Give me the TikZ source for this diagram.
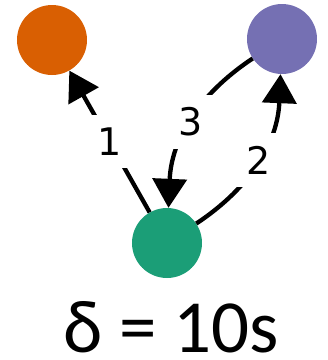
\documentclass[tikz,border=0pt]{standalone}
\usepackage{fontspec}
\newfontfamily\dejavu{DejaVu Sans}
\newfontfamily\carlito{Carlito}
\usetikzlibrary{arrows.meta}
\definecolor{dorange}{HTML}{D95F02}
\definecolor{dpurple}{HTML}{7570B3}
\definecolor{dgreen}{HTML}{1B9E77}
\tikzset{
  vertex/.style={circle,minimum size=70pt,inner sep=0pt,draw=none},
  conn/.style={line width=4.3pt,-{Triangle[length=29pt,width=34pt]}},
  lbl/.style={fill=white,inner sep=13pt,font=\dejavu\fontsize{38}{38}\selectfont}
}
\begin{document}
\begin{tikzpicture}[x=1pt,y=-1pt]
\useasboundingbox (0,0) rectangle (328,360);
\node[vertex,fill=dorange] (o) at (52,40) {};
\node[vertex,fill=dpurple] (p) at (282,39) {};
\node[vertex,fill=dgreen] (g) at (167,243) {};
\draw[conn] (g) -- node[lbl] {1} (o);
\draw[conn] (g) to[bend right=27] node[lbl] {2} (p);
\draw[conn] (p) to[bend right=27] node[lbl] {3} (g);
\node[anchor=base,inner sep=0pt,font=\carlito\fontsize{75}{75}\selectfont] (t) at (171,352) {δ = 10s};
\end{tikzpicture}
\end{document}
